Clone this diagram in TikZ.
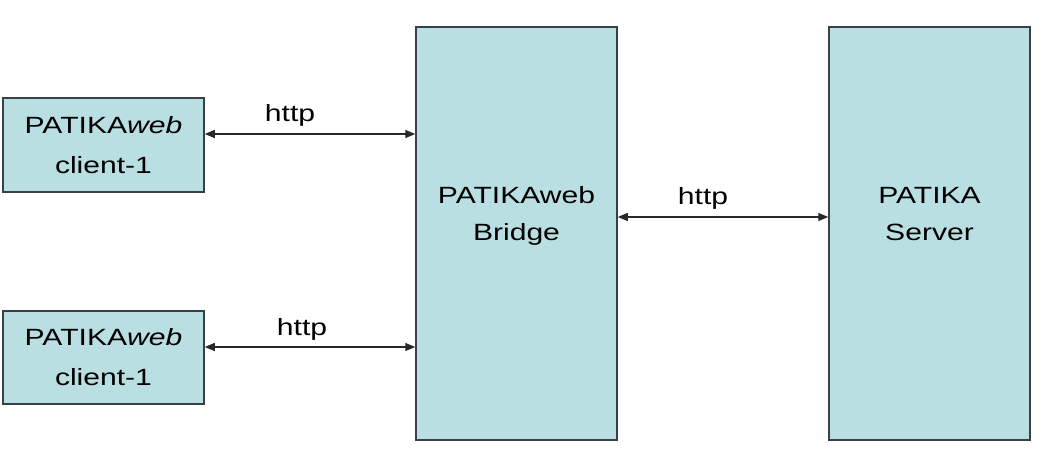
\documentclass[tikz,border=0pt]{standalone}
\usepackage{fontspec}
\setmainfont{Liberation Sans}
\usetikzlibrary{arrows.meta}
\definecolor{boxfill}{RGB}{186,223,226}
\definecolor{boxline}{RGB}{55,65,70}
\definecolor{arrline}{RGB}{40,40,40}
\newcommand{\wide}[1]{\scalebox{1.28}[1]{#1}}
\begin{document}
\begin{tikzpicture}[x=1pt,y=-1pt,
  box/.style={draw=boxline, fill=boxfill, line width=1.5pt, rectangle, inner sep=0pt,
    align=center, font=\fontsize{23.5}{40}\selectfont},
  txt/.style={anchor=base, inner sep=0pt, font=\fontsize{23.5}{28}\selectfont},
  arr/.style={draw=arrline, line width=1.3pt, {Triangle[length=10pt,width=8pt]}-{Triangle[length=10pt,width=8pt]}}]
\useasboundingbox (0,0) rectangle (1046,454);
\node[box, minimum width=201pt, minimum height=94pt] (c1) at (103.5,145) {\wide{PATIKA\textit{web}}\\\wide{client-1}};
\node[box, minimum width=201pt, minimum height=93pt] (c2) at (103.5,357.5) {\wide{PATIKA\textit{web}}\\\wide{client-1}};
\node[box, minimum width=201pt, minimum height=413pt] (bridge) at (516.5,233.5) {};
\node[box, minimum width=201pt, minimum height=413pt] (server) at (929.5,233.5) {};
\node[txt] (b1) at (516.5,204) {\wide{PATIKAweb}};
\node[txt] (b2) at (516.5,241) {\wide{Bridge}};
\node[txt] (s1) at (929.5,204) {\wide{PATIKA}};
\node[txt] (s2) at (929.5,241) {\wide{Server}};
\draw[arr] ([yshift=11pt]c1.east) -- ([yshift=11pt]c1.east -| bridge.west);
\draw[arr] ([yshift=10.5pt]c2.east) -- ([yshift=10.5pt]c2.east -| bridge.west);
\draw[arr] ([yshift=16.5pt]bridge.east) -- ([yshift=16.5pt]bridge.east -| server.west);
\node[txt] (h1) at (290,122) {\wide{http}};
\node[txt] (h2) at (302,335) {\wide{http}};
\node[txt] (h3) at (703,205) {\wide{http}};
\end{tikzpicture}
\end{document}
